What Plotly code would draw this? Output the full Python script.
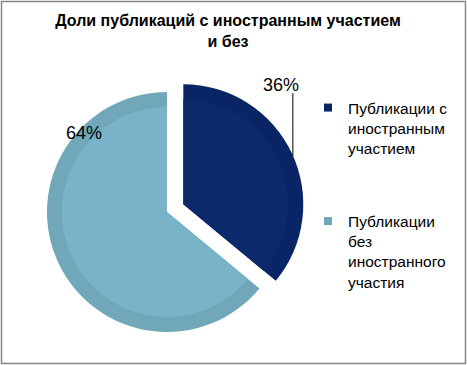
import math
import plotly.graph_objects as go

# ---- data ----
categories = ["Публикации с<br>иностранным<br>участием", "Публикации<br>без<br>иностранного<br>участия"]
values = [36, 64]
colors = ["#0A2565", "#70A8BA"]        # bevel / rim colours
face_colors = ["#0B2A6C", "#79B3C7"]   # inner face colours
title_text = "Доли публикаций с иностранным участием<br>и без"

W, H = 467, 365
FONT = "Liberation Sans, Arial, sans-serif"

# pie geometry (pixels)
cx, cy, r = 167, 212, 120
pull = 0.15
shift = pull * r


def domain(radius, p):
    half = radius * (1 + p)
    return dict(x=[(cx - half) / W, (cx + half) / W],
                y=[1 - (cy + half) / H, 1 - (cy - half) / H])


fig = go.Figure()
fig.add_trace(go.Pie(
    labels=categories, values=values, sort=False, direction="clockwise", rotation=0,
    marker=dict(colors=colors, line=dict(width=0)),
    pull=[pull, 0], textinfo="none", hoverinfo="label+percent",
    domain=domain(r, pull), showlegend=False,
))
r_in = r - 15
p_in = shift / r_in
fig.add_trace(go.Pie(
    labels=categories, values=values, sort=False, direction="clockwise", rotation=0,
    marker=dict(colors=face_colors, line=dict(width=0)),
    pull=[p_in, 0], textinfo="none", hoverinfo="skip",
    domain=domain(r_in, p_in), showlegend=False,
))

# legend entries via dummy traces
for i, (lab, col) in enumerate(zip(categories, colors)):
    fig.add_trace(go.Scatter(x=[None], y=[None], mode="markers", name=lab,
                             legendgroup=f"g{i}",
                             marker=dict(symbol="square", size=8, color=col)))

# percentage labels computed from values
total = sum(values)
pct = [v / total for v in values]
ann = []
# slice 0 (pulled): label outside with leader line
b0 = 2 * math.pi * (pct[0] / 2)
pcx = cx + shift * math.sin(b0)
pcy = cy - shift * math.cos(b0)
ex = pcx + r * math.sin(b0)
ey = pcy - r * math.cos(b0)
lx, ly = ex + 1, ey - 60
fig.add_shape(type="line", xref="paper", yref="paper",
              x0=lx / W, y0=1 - (ey + 3) / H, x1=lx / W, y1=1 - ly / H,
              line=dict(color="black", width=1))
ann.append(dict(text=f"{round(pct[0]*100)}%", x=(lx - 12) / W, y=1 - (ly - 8) / H,
                xref="paper", yref="paper", xanchor="center", yanchor="middle",
                showarrow=False, font=dict(size=18, color="black", family=FONT)))
# slice 1: label inside near rim
a1 = 2 * math.pi * (pct[0] + pct[1] * 0.80)
l1x = cx + 0.955 * r * math.sin(a1)
l1y = cy - 0.955 * r * math.cos(a1)
ann.append(dict(text=f"{round(pct[1]*100)}%", x=l1x / W, y=1 - l1y / H,
                xref="paper", yref="paper", xanchor="center", yanchor="middle",
                showarrow=False, font=dict(size=18, color="black", family=FONT)))

# outer border
fig.add_shape(type="rect", xref="paper", yref="paper",
              x0=1.5 / W, x1=(W - 1.5) / W, y0=1.5 / H, y1=(H - 1.5) / H,
              line=dict(color="#868686", width=1.5), fillcolor="rgba(0,0,0,0)")

fig.update_layout(
    width=W, height=H, margin=dict(l=0, r=0, t=0, b=0),
    paper_bgcolor="white", plot_bgcolor="white",
    xaxis=dict(visible=False), yaxis=dict(visible=False),
    title=dict(text=title_text, x=228 / W, xanchor="center", y=1 - 26 / H, yanchor="middle",
               font=dict(size=16, family=FONT, color="black", weight="bold")),
    annotations=ann,
    legend=dict(x=308 / W, y=1 - 91 / H, xanchor="left", yanchor="top",
                valign="top", tracegroupgap=50,
                font=dict(size=15.5, family=FONT, color="black"),
                bgcolor="rgba(0,0,0,0)"),
    showlegend=True,
)

fig.write_html("out.html", post_script="document.body.style.margin='0';",
               config={"displayModeBar": False})
